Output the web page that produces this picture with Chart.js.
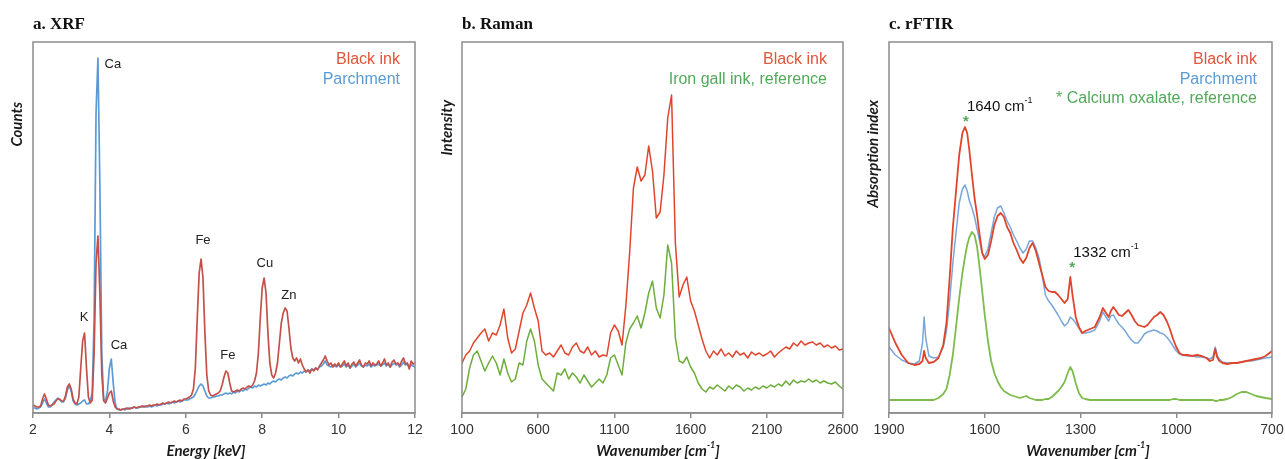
<!DOCTYPE html>
<html><head><meta charset="utf-8">
<script src="https://cdn.jsdelivr.net/npm/chart.js@4.4.1/dist/chart.umd.min.js"></script>
<style>
html,body{margin:0;padding:0;background:#fff;}
#wrap{position:relative;width:1285px;height:459px;overflow:hidden;background:#fff;}
canvas{position:absolute;top:0;}
</style></head><body>
<div id="wrap">
<canvas id="cA" width="430" height="459" style="left:0px;width:430px;height:459px"></canvas>
<canvas id="cB" width="445" height="459" style="left:430px;width:445px;height:459px"></canvas>
<canvas id="cC" width="425" height="459" style="left:860px;width:425px;height:459px"></canvas>
</div>
<script>
// ---------- a. XRF (energy grid: 2.00 .. 12.00 keV, 0.05 keV sampling) ----------
const xrfEnergyStart = 2, xrfEnergyStep = 0.05;
const xrfInk = [
  8,7,6,6,7,14,19,14,8,7,8,9,12,14,14,12,12,17,26,29,
  24,14,10,9,16,45,72,80,45,16,10,13,60,150,177,120,40,12,10,15,
  20,22,12,6,4,4,3,4,4,5,4,5,5,6,5,6,6,7,6,7,
  7,8,7,8,8,9,8,9,10,9,10,11,10,11,12,11,12,13,12,14,
  14,15,16,18,24,45,95,140,154,135,80,38,22,18,17,18,19,20,22,28,
  36,42,40,30,22,21,22,23,22,24,25,24,26,27,26,28,32,40,60,95,
  125,135,120,80,50,38,35,40,50,70,90,100,105,102,85,65,55,52,55,50,
  54,48,44,41,43,40,44,42,45,43,47,50,53,57,52,48,50,46,49,47,
  50,46,49,52,47,50,45,49,51,47,50,53,48,46,50,49,52,47,50,48,
  49,52,47,50,54,48,50,46,51,53,49,50,47,52,55,49,50,44,52,49,50
];
const xrfParchment = [
  5,5,4,5,6,10,14,10,6,6,8,11,13,15,13,11,11,15,23,27,
  22,12,9,8,9,10,12,13,9,9,12,20,95,300,355,230,60,14,12,22,
  45,54,30,10,4,3,3,4,3,4,5,4,5,6,5,5,6,6,7,6,
  6,7,6,7,8,7,8,8,9,9,10,9,10,11,10,11,12,11,12,13,
  13,13,14,15,16,19,23,27,29,27,22,17,15,15,16,16,17,17,18,18,
  19,20,19,20,19,21,20,22,21,23,22,24,23,25,26,25,27,26,28,27,
  28,29,28,30,29,31,32,31,33,34,33,35,36,35,37,38,37,39,40,39,
  41,40,42,41,43,42,44,43,45,44,46,47,49,52,48,47,46,48,47,46,
  48,46,47,49,46,48,45,47,49,46,48,50,47,46,48,47,49,46,48,47,
  48,49,47,48,50,47,49,46,48,50,48,49,46,48,51,48,49,46,48,47,46
];
const xrfTicks = [2,4,6,8,10,12];
const xrfPeakText = ['Ca','K','Ca','Fe','Fe','Cu','Zn'];
const xrfPeakX = [4.09,3.34,4.25,6.45,7.10,8.07,8.70];
const xrfPeakY = [349,96,68,173,58,150,118];

// ---------- b. Raman (100 .. 2600 cm-1, 25 cm-1 sampling) ----------
const ramanStart = 100, ramanStep = 25;
const ramanInk = [
  50,58,62,70,75,80,84,72,80,78,
  88,104,75,60,64,82,100,108,120,105,
  92,62,58,60,56,62,68,60,58,66,
  70,62,60,66,58,62,56,58,57,80,
  88,82,68,107,160,225,246,232,238,267,
  242,195,201,238,295,318,170,116,128,136,
  112,102,88,74,62,55,62,58,64,57,
  60,56,62,58,60,55,61,58,60,57,
  59,62,56,60,63,66,64,70,67,72,
  68,70,71,68,70,66,68,65,67,63,
  64
];
const ramanIronGall = [
  16,24,45,58,62,52,42,50,57,50,
  38,54,40,31,34,50,48,72,84,72,
  48,34,30,26,22,40,38,44,34,40,
  36,30,38,32,26,30,34,30,38,55,
  58,48,38,70,84,90,97,85,100,120,
  132,105,95,118,168,150,75,52,50,56,
  46,40,30,24,21,26,24,28,25,22,
  27,24,28,26,22,25,23,26,24,27,
  25,28,26,29,27,32,28,33,30,32,
  31,34,31,33,30,32,30,29,31,27,
  24
];
const ramanTicks = [100,600,1100,1600,2100,2600];

// ---------- c. rFTIR ----------
const ftirWavenumber = [
  1900,1880,1860,1840,1820,1805,1795,1790,1785,1775,
  1760,1745,1730,1720,1710,1700,1690,1680,1670,1662,
  1655,1648,1640,1632,1624,1616,1608,1600,1590,1580,
  1570,1560,1550,1540,1530,1520,1510,1500,1490,1480,
  1470,1460,1450,1440,1430,1420,1410,1400,1390,1380,
  1370,1360,1350,1340,1332,1325,1315,1305,1295,1285,
  1270,1255,1240,1230,1220,1212,1205,1197,1188,1180,
  1170,1160,1150,1140,1130,1120,1110,1100,1090,1080,
  1070,1060,1050,1040,1030,1020,1010,1000,990,980,
  965,950,935,920,905,895,885,878,872,865,
  855,840,825,810,795,780,765,750,735,720,
  700
];
const ftirInk = [
  85,70,58,50,48,49,52,62,55,50,
  51,55,68,90,135,185,222,258,280,286,
  280,262,238,215,198,178,160,154,158,172,
  188,197,200,196,186,180,170,163,155,150,
  155,165,170,162,150,138,126,122,121,121,
  118,114,110,114,136,118,96,86,80,82,
  84,86,96,105,100,96,102,106,102,98,
  97,100,103,98,92,88,87,86,88,92,
  96,98,101,98,92,84,74,66,60,58,
  58,57,58,57,55,52,53,64,56,52,
  50,49,50,50,51,52,53,54,55,57,
  62
];
const ftirParchment = [
  66,58,53,50,49,52,70,96,75,57,
  55,56,66,82,112,150,180,210,224,228,
  222,212,205,196,184,172,160,156,164,180,
  196,205,207,200,192,186,178,172,165,160,
  164,172,172,165,155,138,118,112,108,103,
  98,92,87,90,96,94,90,85,80,80,
  81,83,92,101,96,92,97,98,93,89,
  86,82,77,73,70,70,74,79,81,82,
  83,82,80,79,76,72,67,62,59,58,
  57,57,56,56,55,54,56,66,58,54,
  51,50,50,50,51,52,52,53,54,55,
  56
];
const ftirOxalate = [
  13,13,13,13,13,13,13,13,13,13,
  13,15,19,24,38,58,86,115,140,156,
  168,176,181,178,166,145,122,98,72,52,
  40,32,26,22,20,18,17,16,15,16,
  17,15,14,13,13,13,14,14,16,19,
  22,26,31,40,46,42,30,20,15,14,
  13,13,13,13,13,13,13,13,13,13,
  13,13,13,13,13,13,13,13,13,13,
  13,13,13,13,13,13,14,14,13,13,
  13,13,13,13,13,13,13,12,12,13,
  13,14,16,19,21,21,19,17,16,15,
  14
];
const ftirTicks = [700,1000,1300,1600,1900];
const ftirMarkText = ['1640','1332'];
const ftirMarkX = [1659,1326];
const ftirMarkY = [296,150];

// ---------- helpers ----------
const SANS = '"Liberation Sans", Arial, sans-serif';
const INK = '#e0553b', PARCH = '#5b9bd5', GREEN = '#52a95a';

function seriesFromGrid(start, step, vals){ return vals.map((v,i)=>({x: +(start + i*step).toFixed(3), y: v})); }
function seriesFromXY(xs, vals){ return vals.map((v,i)=>({x: xs[i], y: v})); }

function drawParts(ctx, parts, x, y, size, fam, style, align){
  const supSize = Math.round(size*0.62);
  let total = 0;
  parts.forEach(p=>{ ctx.font = style + ' ' + (p[1]?supSize:size) + 'px ' + fam; total += ctx.measureText(p[0]).width; });
  let cx = align==='center' ? x - total/2 : (align==='right' ? x - total : x);
  ctx.textAlign = 'left';
  parts.forEach(p=>{
    ctx.font = style + ' ' + (p[1]?supSize:size) + 'px ' + fam;
    ctx.fillText(p[0], cx, p[1] ? y - size*0.38 : y);
    cx += ctx.measureText(p[0]).width;
  });
}

const decoPlugin = {
  afterDraw(chart, o){
    const ctx = chart.ctx, a = chart.chartArea, xs = chart.scales.x, ys = chart.scales.y;
    ctx.save();
    ctx.strokeStyle = '#8c8c8c'; ctx.lineWidth = 1.5;
    ctx.strokeRect(a.left, a.top, a.right-a.left, a.bottom-a.top);
    // panel title
    ctx.fillStyle = '#111'; ctx.textBaseline = 'middle'; ctx.textAlign = 'left';
    ctx.font = 'bold 17px "Liberation Serif", "Times New Roman", serif';
    ctx.fillText(o.title, a.left, 25);
    // legend
    ctx.font = '16px ' + SANS; ctx.textAlign = 'right';
    o.legend.forEach((l,i)=>{ ctx.fillStyle = l.color; ctx.fillText(l.text, a.right - o.legendInset, 60 + i*19.5); });
    // x title
    ctx.fillStyle = '#1a1a1a'; ctx.textBaseline = 'middle';
    drawParts(ctx, o.xTitle, o.xTitleCX, 451, 15, 'Lato, "Open Sans", sans-serif', 'italic bold', 'center');
    // y title rotated
    ctx.save();
    ctx.translate(o.yTitleX, o.yTitleTop);
    ctx.rotate(-Math.PI/2);
    ctx.font = 'italic bold 15px Lato, "Open Sans", sans-serif';
    ctx.textAlign = 'right'; ctx.textBaseline = 'middle';
    ctx.fillText(o.yTitle, 0, 0);
    ctx.restore();
    // peak labels
    if (o.peaks){
      ctx.font = '13px ' + SANS; ctx.fillStyle = '#222'; ctx.textAlign = 'center'; ctx.textBaseline = 'middle';
      o.peaks.text.forEach((t,i)=>{
        ctx.fillText(t, xs.getPixelForValue(o.peaks.x[i]), ys.getPixelForValue(o.peaks.y[i]));
      });
    }
    if (o.marks){
      o.marks.text.forEach((t,i)=>{
        const px = xs.getPixelForValue(o.marks.x[i]), py = ys.getPixelForValue(o.marks.y[i]);
        ctx.fillStyle = GREEN; ctx.textAlign = 'center'; ctx.textBaseline = 'alphabetic';
        ctx.font = 'bold 15px ' + SANS;
        ctx.fillText('*', px, py + 9);
        ctx.fillStyle = '#111'; ctx.textBaseline = 'middle';
        drawParts(ctx, [[t + ' cm', false], ['-1', true]], px + 1, py - 10.5, 15, SANS, '', 'left');
      });
    }
    ctx.restore();
  }
};

function makeChart(id, datasets, xmin, xmax, ticksArr, reverse, pad, deco){
  return new Chart(document.getElementById(id), {
    type:'line',
    data:{ datasets },
    plugins:[ {id:'deco', afterDraw: (c)=>decoPlugin.afterDraw(c, deco)} ],
    options:{
      responsive:false, animation:false, devicePixelRatio:1,
      parsing:false, normalized:true,
      layout:{ padding:{ left:pad[0], right:pad[1], top:42, bottom:0 } },
      elements:{ point:{ radius:0 }, line:{ tension:0, borderJoinStyle:'round', borderCapStyle:'round' } },
      plugins:{ legend:{display:false}, tooltip:{enabled:false} },
      scales:{
        x:{ type:'linear', min:xmin, max:xmax, reverse,
            afterBuildTicks: s => { s.ticks = ticksArr.map(v=>({value:v})); },
            ticks:{ color:'#333', font:{ family:'"Liberation Sans", Arial, sans-serif', size:14 }, padding:4, maxRotation:0, autoSkip:false,
                    callback: v => String(v) },
            grid:{ drawOnChartArea:false, drawTicks:true, tickLength:5, color:'#8c8c8c', lineWidth:1.5 },
            border:{ display:true, color:'#8c8c8c', width:1.5 },
            afterFit: s => { s.height = 46; } },
        y:{ type:'linear', min:0, max:371, display:false }
      }
    }
  });
}

// a. XRF
makeChart('cA', [
  { data: seriesFromGrid(xrfEnergyStart, xrfEnergyStep, xrfInk), borderColor:'#c4504a', borderWidth:1.7 },
  { data: seriesFromGrid(xrfEnergyStart, xrfEnergyStep, xrfParchment), borderColor:'#5b9bd5', borderWidth:1.7 }
], 2, 12, xrfTicks, false, [33,15], {
  title:'a. XRF', legend:[{text:'Black ink', color:INK},{text:'Parchment', color:PARCH}], legendInset:15,
  xTitle:[['Energy [keV]', false]], xTitleCX:206, yTitle:'Counts', yTitleX:17, yTitleTop:102,
  peaks:{ text:xrfPeakText, x:xrfPeakX, y:xrfPeakY }
});

// b. Raman
makeChart('cB', [
  { data: seriesFromGrid(ramanStart, ramanStep, ramanInk), borderColor:'#e0452c', borderWidth:1.5 },
  { data: seriesFromGrid(ramanStart, ramanStep, ramanIronGall), borderColor:'#6cad3c', borderWidth:1.5 }
], 100, 2600, ramanTicks, false, [32,32], {
  title:'b. Raman', legend:[{text:'Black ink', color:INK},{text:'Iron gall ink, reference', color:GREEN}], legendInset:16,
  xTitle:[['Wavenumber [cm', false], ['-1', true], [']', false]], xTitleCX:228, yTitle:'Intensity', yTitleX:17, yTitleTop:100
});

// c. rFTIR
makeChart('cC', [
  { data: seriesFromXY(ftirWavenumber, ftirInk), borderColor:'#e0452c', borderWidth:1.8 },
  { data: seriesFromXY(ftirWavenumber, ftirParchment), borderColor:'#79a7db', borderWidth:1.5 },
  { data: seriesFromXY(ftirWavenumber, ftirOxalate), borderColor:'#7dbb4c', borderWidth:1.8 }
], 700, 1900, ftirTicks, true, [29,13], {
  title:'c. rFTIR', legend:[{text:'Black ink', color:INK},{text:'Parchment', color:PARCH},{text:'* Calcium oxalate, reference', color:GREEN}], legendInset:15,
  xTitle:[['Wavenumber [cm', false], ['-1', true], [']', false]], xTitleCX:228, yTitle:'Absorption index', yTitleX:13, yTitleTop:100,
  marks:{ text:ftirMarkText, x:ftirMarkX, y:ftirMarkY }
});
</script>
</body></html>
